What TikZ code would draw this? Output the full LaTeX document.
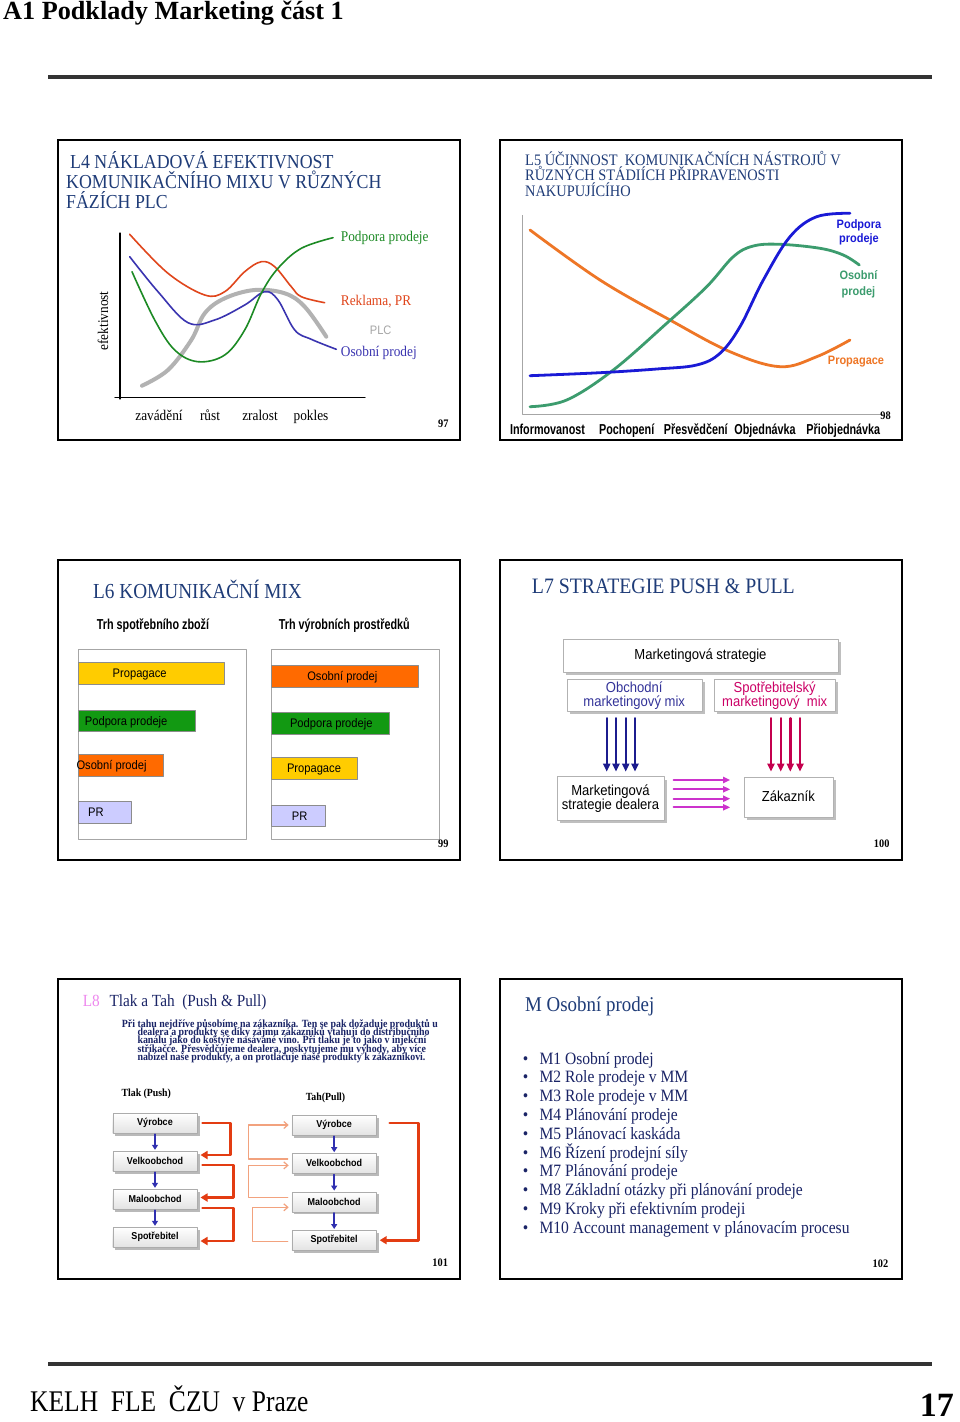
\documentclass[tikz,border=0pt]{standalone}
\usepackage{fontspec}
\setmainfont{Liberation Serif}
\setsansfont{Liberation Sans}
\newfontfamily\slideserif[FakeStretch=0.9]{Liberation Serif}
\newfontfamily\slidesans[FakeStretch=0.9]{Liberation Sans}
\newfontfamily\narrowsans[FakeStretch=0.75]{Liberation Sans}
\newfontfamily\footserif[FakeStretch=0.85]{Liberation Serif}
\usetikzlibrary{arrows.meta,positioning,shadows}

\definecolor{titlenavy}{HTML}{1F3C78}
\definecolor{textnavy}{HTML}{1A2466}
\definecolor{plcred}{HTML}{E0461C}
\definecolor{plcblue}{HTML}{3A34B0}
\definecolor{plcgreen}{HTML}{1C8A24}
\definecolor{plcgray}{HTML}{B2B2B2}
\definecolor{stageorange}{HTML}{EE7626}
\definecolor{stagegreen}{HTML}{3C9C6E}
\definecolor{stageblue}{HTML}{1A1AD6}
\definecolor{baryellow}{HTML}{FFCC00}
\definecolor{bargreen}{HTML}{129912}
\definecolor{barorange}{HTML}{FF6A00}
\definecolor{barlilac}{HTML}{CCCCFF}
\definecolor{pushnavy}{HTML}{1C1C8E}
\definecolor{pullcrimson}{HTML}{C4004E}
\definecolor{flowmagenta}{HTML}{CC33CC}
\definecolor{mixblue}{HTML}{333399}
\definecolor{mixred}{HTML}{CC0066}
\definecolor{tlakred}{HTML}{E33C12}
\definecolor{tahpeach}{HTML}{F2A27E}
\definecolor{chainblue}{HTML}{3030B0}
\definecolor{lpink}{HTML}{EE88EE}

\newcommand\fsz[2]{\fontsize{#1}{#2}\selectfont}

\tikzset{
  slide/.style={draw=black,line width=2pt,line join=miter},
  sttl/.style={anchor=base west,inner sep=0pt,text=titlenavy},
  lab/.style={anchor=base west,inner sep=0pt,font=\slideserif\fsz{14.8pt}{16pt}},
  pnum/.style={anchor=base,inner sep=0pt,font=\slideserif\bfseries\fsz{11.5pt}{12pt}},
  stagelab/.style={inner sep=0pt,align=center,font=\slidesans\bfseries\fsz{12.2pt}{14pt}},
  bartxt/.style={anchor=base,inner sep=0pt,font=\slidesans\fsz{12.4pt}{13pt}},
  bar/.style={draw=black!45,line width=.6pt},
  mixbox/.style={draw=gray!60,fill=white,inner sep=0pt,align=center,
    font=\slidesans\fsz{14.5pt}{14pt},
    drop shadow={shadow xshift=3pt,shadow yshift=-3pt,fill=gray!50,opacity=1}},
  chainbox/.style={draw=gray!65,top color=white,bottom color=gray!22,
    minimum width=84.6pt,minimum height=20pt,inner sep=0pt,
    font=\slidesans\bfseries\fsz{10pt}{11pt},
    drop shadow={shadow xshift=2.5pt,shadow yshift=-2.5pt,fill=gray!55,opacity=1}},
  pusharr/.style={pushnavy,line width=2.4pt,-{Triangle[length=8pt,width=7pt]}},
  pullarr/.style={pullcrimson,line width=2.4pt,-{Triangle[length=8pt,width=7pt]}},
  flowarr/.style={flowmagenta,line width=1.8pt,-{Triangle[length=7pt,width=6pt]}},
  chainarr/.style={chainblue,line width=1.6pt,-{Triangle[length=5pt,width=6pt]},shorten >=1pt,shorten <=1pt},
  tlak/.style={tlakred,line width=2.6pt,-{Triangle[length=7pt,width=8pt]}},
  tah/.style={tahpeach,line width=1.2pt,-{Straight Barb[length=4pt,width=7pt]}},
  bul/.style={anchor=base,inner sep=0pt,text=textnavy,font=\slideserif\fsz{17.3pt}{18pt}},
  mitem/.style={anchor=base west,inner sep=0pt,text=textnavy,font=\slideserif\fsz{17.3pt}{18pt}}
}

\begin{document}
\begin{tikzpicture}[x=1pt,y=-1pt,line join=round,line cap=round]
\useasboundingbox (0,0) rectangle (960,1422);
\fill[white] (0,0) rectangle (960,1422);

% page head and foot
\node[anchor=base west,inner sep=0pt,font=\bfseries\fsz{26.2pt}{28pt}] (pagehead) at (3,19.5) {A1 Podklady Marketing část 1};
\draw[black!80,line width=3.5pt,line cap=butt] (48,77) -- (932,77);
\draw[black!80,line width=3.5pt,line cap=butt] (48,1364) -- (932,1364);
\node[anchor=base west,inner sep=0pt,font=\footserif\fsz{30pt}{32pt}] (pagefoot) at (30,1411) {KELH\ \ FLE\ \ ČZU\ \ v Praze};
\node[anchor=base east,inner sep=0pt,font=\bfseries\fsz{34pt}{36pt}] (pageno) at (954,1416) {17};

% slide frames
\foreach \x/\y in {58/140,500/140,58/560,500/560,58/979,500/979}
  \draw[slide] (\x,\y) rectangle ++(402,300);

% L4
\foreach \xx/\yy/\txt [count=\i] in {70/168.5/L4 NÁKLADOVÁ EFEKTIVNOST,66/188.5/KOMUNIKAČNÍHO MIXU V RŮZNÝCH,66/208/FÁZÍCH PLC}
  \node[sttl,font=\slideserif\fsz{19.8pt}{21pt}] (lfour\i) at (\xx,\yy) {\txt};
\draw[line width=1.2pt] (120,233) -- (120,399);
\draw[line width=1.2pt] (115,397.5) -- (365,397.5);
\draw[plcgray,line width=4pt] plot[smooth,tension=.6] coordinates {(142,385.7) (168,370) (191.3,340) (204.7,313.3) (224.7,298.3) (254.7,290) (284.7,293.3) (304.7,306.7) (326.3,336.7)};
\draw[plcred,line width=1.6pt] plot[smooth,tension=.6] coordinates {(129.7,234.3) (168,273.3) (204.7,295) (224.7,291.7) (244.7,271.7) (261.3,261.7) (274.7,266.7) (291.3,286.7) (301.3,296.7) (324.7,302.7)};
\draw[plcblue,line width=1.6pt] plot[smooth,tension=.6] coordinates {(129.7,256.7) (158,291.7) (188,322.7) (214.7,320) (244.7,305) (264.7,291.7) (278,300) (294.7,330) (311.3,339.3) (336.3,349.3)};
\draw[plcgreen,line width=1.6pt] plot[smooth,tension=.6] coordinates {(132,271.7) (154.7,320) (174.7,350) (198,361.7) (224.7,355) (244.7,330) (261.3,293.3) (278,268.3) (301.3,248.3) (333,237.7)};
\node[lab,text=plcgreen] (lfourpp) at (340.7,241.5) {Podpora prodeje};
\node[lab,text=plcred] (lfourrp) at (340.7,305.5) {Reklama, PR};
\node[inner sep=0pt,anchor=base,text=gray!70,font=\slidesans\fsz{12.3pt}{13pt}] (lfourplc) at (380.7,334) {PLC};
\node[lab,text=plcblue] (lfourop) at (340.7,356) {Osobní prodej};
\node[inner sep=0pt,rotate=90,font=\slideserif\fsz{14.8pt}{16pt}] (lfoureff) at (103,321) {efektivnost};
\foreach \xx/\txt [count=\i] in {159/zavádění,210/růst,260/zralost,311/pokles}
  \node[lab,anchor=base] (lfourph\i) at (\xx,420) {\txt};
\node[pnum] (lfournum) at (443.3,427) {97};

% L5
\foreach \yy/\txt [count=\i] in {165/L5 ÚČINNOST\ \ KOMUNIKAČNÍCH NÁSTROJŮ V,180.7/RŮZNÝCH STÁDIÍCH PŘIPRAVENOSTI,196.7/NAKUPUJÍCÍHO}
  \node[sttl,font=\slideserif\fsz{16pt}{18pt}] (lfive\i) at (525,\yy) {\txt};
\draw[gray!70,line width=.8pt,line cap=butt] (522.7,215) -- (522.7,414.5) -- (883,414.5);
\draw[stageorange,line width=2.8pt] plot[smooth,tension=.6] coordinates {(530,230) (600,280) (670,320) (730,351.7) (780,366.7) (816.7,356.7) (850,340)};
\draw[stagegreen,line width=2.8pt] plot[smooth,tension=.6] coordinates {(530,406.7) (566.7,400) (613.3,370) (666.7,323.3) (706.7,286.7) (733.3,256.7) (753.3,246) (780,244.3) (820,248.3) (843.3,255) (859.3,265)};
\draw[stageblue,line width=2.8pt] plot[smooth,tension=.6] coordinates {(530,375.7) (600,372.7) (656.7,369) (696.7,365) (720,353.3) (740,326.7) (763.3,280) (790,236.7) (816.7,216.7) (850,213.3)};
\node[stagelab,text=stageblue] (lfivepp) at (859,232.5) {Podpora\\prodeje};
\node[stagelab,text=stagegreen,font=\slidesans\bfseries\fsz{12.2pt}{16pt}] (lfiveop) at (858.5,283.8) {Osobní\\prodej};
\node[stagelab,text=stageorange,anchor=base] (lfiveprop) at (856,364) {Propagace};
\foreach \xx/\txt [count=\i] in {547.5/Informovanost,626.7/Pochopení,695.8/Přesvědčení,765/Objednávka,843.3/Přiobjednávka}
  \node[anchor=base,inner sep=0pt,font=\narrowsans\bfseries\fsz{14.4pt}{15pt}] (lfivest\i) at (\xx,434.5) {\txt};
\node[pnum] (lfivenum) at (885.5,419.7) {98};

% L6
\node[sttl,font=\slideserif\fsz{21.4pt}{22pt}] (lsix) at (93,598.3) {L6 KOMUNIKAČNÍ MIX};
\node[anchor=base,inner sep=0pt,font=\narrowsans\bfseries\fsz{14.4pt}{15pt}] (lsixcons) at (153,629.3) {Trh spotřebního zboží};
\node[anchor=base,inner sep=0pt,font=\narrowsans\bfseries\fsz{14.4pt}{15pt}] (lsixind) at (344.3,629.3) {Trh výrobních prostředků};
\draw[gray!70,line width=1pt] (78,649.3) rectangle (246.3,839.3);
\draw[gray!70,line width=1pt] (271.3,649.3) rectangle (439.7,839.3);
\foreach \xa/\ya/\xb/\col in {78/662.3/224/baryellow,78/710/195.3/bargreen,78/754.3/163.7/barorange,78/801.7/131.3/barlilac,
  271.3/665.7/418/barorange,271.3/712.7/389/bargreen,271.3/757.7/357.3/baryellow,271.3/805/325.7/barlilac}
  \filldraw[bar,fill=\col] (\xa,\ya) rectangle (\xb,\ya+21.7);
\node[bartxt] (lsixa1) at (139.7,677.5) {Propagace};
\node[bartxt,anchor=base west] (lsixa2) at (84.7,725.2) {Podpora prodeje};
\node[bartxt,anchor=base west] (lsixa3) at (76.3,769.5) {Osobní prodej};
\node[bartxt,anchor=base west] (lsixa4) at (88,816.8) {PR};
\node[bartxt] (lsixb1) at (342.3,680.8) {Osobní prodej};
\node[bartxt] (lsixb2) at (331.3,727.8) {Podpora prodeje};
\node[bartxt] (lsixb3) at (314,772.8) {Propagace};
\node[bartxt] (lsixb4) at (299.7,820.1) {PR};
\node[pnum] (lsixnum) at (443.3,847.3) {99};

% L7
\node[sttl,font=\slideserif\fsz{22pt}{23pt}] (lseven) at (531.7,593.3) {L7 STRATEGIE PUSH \& PULL};
\node[mixbox,minimum width=274.4pt,minimum height=33.3pt] (mstrat) at (700.5,655.7) {Marketingová strategie};
\node[mixbox,minimum width=135pt,minimum height=31.7pt,text=mixblue] (obchod) at (634.2,695.2) {Obchodní\\marketingový mix};
\node[mixbox,minimum width=120.7pt,minimum height=31.7pt,text=mixred] (spotreb) at (774.7,695.2) {Spotřebitelský\\marketingový\ \ mix};
\node[mixbox,minimum width=107.6pt,minimum height=43.3pt] (dealer) at (610.5,798.3) {Marketingová\\strategie dealera};
\node[mixbox,minimum width=88.7pt,minimum height=40pt] (zakaz) at (788.4,796.7) {Zákazník};
\foreach \dx in {-27.5,-18.2,-8.5,0.8}
  \draw[pusharr] ([xshift=\dx pt]obchod.south) ++(0,7) -- ++(0,53.4);
\foreach \dx in {-3.7,6,15.6,25.3}
  \draw[pullarr] ([xshift=\dx pt]spotreb.south) ++(0,7) -- ++(0,53.4);
\foreach \dy in {18.3,9,-0.4,-9}
  \draw[flowarr] ([yshift=\dy pt]dealer.east) ++(9,0) -- ++(56.7,0);
\node[pnum] (lsevennum) at (881.7,847.3) {100};

% L8
\node[sttl,text=lpink,font=\slideserif\fsz{17pt}{18pt}] (leight) at (82.7,1006) {L8};
\node[sttl,text=textnavy,font=\slideserif\fsz{17pt}{18pt}] (leightttl) at (109.3,1006) {Tlak a Tah\ \ (Push \& Pull)};
\foreach \xx/\yy/\txt [count=\i] in {121.7/1027/{Při tahu nejdříve působíme na zákazníka. Ten se pak dožaduje produktů u},
  137.3/1035.4/{dealera a produkty se díky zájmu zákazníků vtahují do distribučního},
  137.3/1043.8/{kanálu jako do koštýře nasávané víno. Při tlaku je to jako v injekční},
  137.3/1052.2/{stříkačce. Přesvědčujeme dealera, poskytujeme mu výhody, aby více},
  137.3/1060.6/{nabízel naše produkty, a on protlačuje naše produkty k zákazníkovi.}}
  \node[anchor=base west,inner sep=0pt,text=textnavy,font=\slideserif\bfseries\fsz{11pt}{9pt}] (leightp\i) at (\xx,\yy) {\txt};
\node[anchor=base,inner sep=0pt,font=\slideserif\bfseries\fsz{10.9pt}{12pt}] (tlakhd) at (146.3,1096.5) {Tlak (Push)};
\node[anchor=base,inner sep=0pt,font=\slideserif\bfseries\fsz{10.9pt}{12pt}] (tahhd) at (325.5,1100.7) {Tah(Pull)};
\node[chainbox] (pv1) at (155,1123) {Výrobce};
\node[chainbox,below=17.6pt of pv1] (pv2) {Velkoobchod};
\node[chainbox,below=17.6pt of pv2] (pv3) {Maloobchod};
\node[chainbox,below=17.6pt of pv3] (pv4) {Spotřebitel};
\node[chainbox] (tv1) at (334.2,1125) {Výrobce};
\node[chainbox,below=18pt of tv1] (tv2) {Velkoobchod};
\node[chainbox,below=18pt of tv2] (tv3) {Maloobchod};
\node[chainbox,below=18pt of tv3] (tv4) {Spotřebitel};
\foreach \a/\b in {1/2,2/3,3/4}{
  \draw[chainarr] (pv\a) -- (pv\b);
  \draw[chainarr] (tv\a) -- (tv\b);
}
\draw[tlak] ([xshift=5pt]pv1.east) -- ++(28,0) |- ([xshift=3pt,yshift=6pt]pv2.east);
\draw[tlak] ([xshift=5pt,yshift=-4pt]pv2.east) -- ++(31,0) |- ([xshift=3pt,yshift=1.5pt]pv3.east);
\draw[tlak] ([xshift=5pt,yshift=-9pt]pv3.east) -- ++(31,0) |- ([xshift=3pt,yshift=-4pt]pv4.east);
\draw[tah] ([xshift=-4pt,yshift=4.5pt]tv2.west) -- ++(-39.5,0) |- ([xshift=-3pt]tv1.west);
\draw[tah] ([xshift=-4pt,yshift=4.5pt]tv3.west) -- ++(-39.5,0) |- ([xshift=-3pt,yshift=-2pt]tv2.west);
\draw[tah] ([xshift=-4pt,yshift=-1pt]tv4.west) -- ++(-35.5,0) |- ([xshift=-3pt,yshift=-5.5pt]tv3.west);
\draw[tlak] ([xshift=13pt,yshift=2pt]tv1.east) -- ++(28.5,0) |- ([xshift=3pt]tv4.east);
\node[pnum] (leightnum) at (440.2,1266.7) {101};

% M
\node[sttl,font=\slideserif\fsz{21pt}{22pt}] (mttl) at (525,1011.7) {M Osobní prodej};
\foreach \txt [count=\i] in {M1 Osobní prodej,M2 Role prodeje v MM,M3 Role prodeje v MM,M4 Plánování prodeje,M5 Plánovací kaskáda,M6 Řízení prodejní síly,M7 Plánování prodeje,M8 Základní otázky při plánování prodeje,M9 Kroky při efektivním prodeji,M10 Account management v plánovacím procesu}{
  \node[bul] (mbul\i) at (525.7,1045.2+18.8*\i) {•};
  \node[mitem] (mitem\i) at (539.3,1045.2+18.8*\i) {\txt};
}
\node[pnum] (mnum) at (880.5,1267.3) {102};
\end{tikzpicture}
\end{document}
